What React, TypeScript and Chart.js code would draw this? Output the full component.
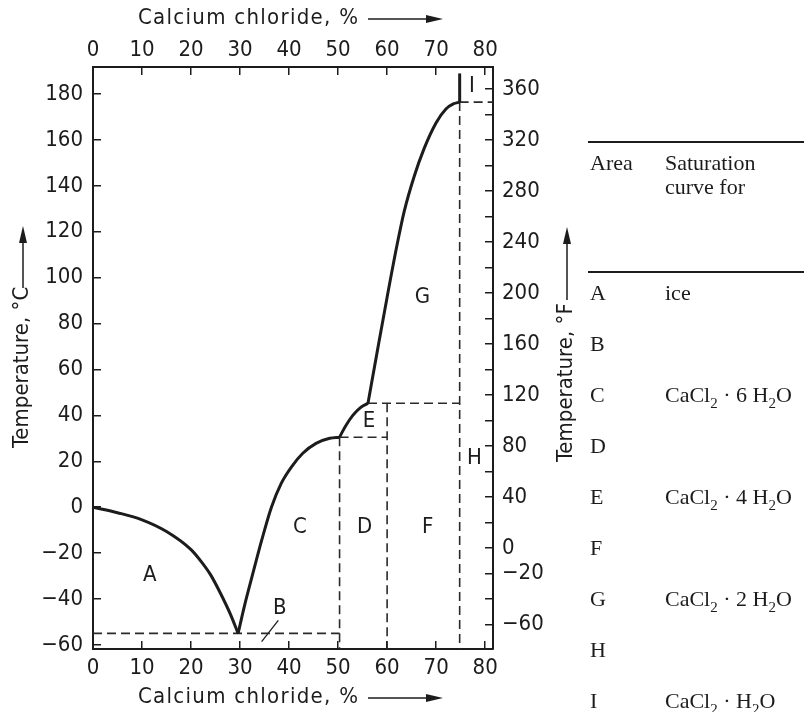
import React, { useEffect, useRef } from 'react';
import { Chart, registerables } from 'chart.js';

Chart.register(...registerables);

const FONT = "'Liberation Sans Narrow', 'DejaVu Sans Condensed', 'Liberation Sans', sans-serif";
const SERIF = "'Liberation Serif', 'DejaVu Serif', serif";
const INK = '#1c1c1c';

// ---- axis ranges / ticks ----
const pctMin = 0;
const pctMax = 81.6;
const pctStep = 10;
const tempCMin = -61.8;
const tempCMax = 191.8;
const tempCStep = 20;
const tempFStep = 20;
const fahrenheitLabelled = [360, 320, 280, 240, 200, 160, 120, 80, 40, 0, -20, -60];

// ---- saturation curves: [CaCl2 %, temperature °C] ----
const iceCurve = [[0, 0], [5, -2.4], [10, -5.5], [15, -10.6], [20, -18.5], [22, -23.5], [24, -29.5], [26, -37.5], [28, -46.5], [29.6, -55]];
const hexahydrateCurve = [[29.6, -55], [30.9, -43], [32.6, -29], [34.4, -14.5], [36.4, 0], [38.4, 10.4], [40.5, 17.6], [42.8, 23.5], [45.5, 27.8], [48.3, 30], [50.3, 30.5]];
const tetrahydrateCurve = [[50.3, 30.5], [51.5, 35.3], [53, 40], [54.5, 43.3], [56.1, 45.3]];
const dihydrateCurve = [[56.1, 45.3], [58, 68], [60, 91.5], [62, 114], [63.5, 129], [65.5, 144], [67.5, 156], [70, 167.5], [72, 173.5], [73.5, 175.7], [74.8, 176.5]];
const monohydrateCurve = [[74.8, 176.5], [74.8, 189]];

// ---- dashed phase boundaries ----
const eutecticLine = [[0, -55], [50.3, -55]];
const hexaVertical = [[50.3, 30.5], [50.3, tempCMin]];
const hexaHorizontal = [[50.3, 30.5], [60, 30.5]];
const tetraVertical = [[60, 45.3], [60, tempCMin]];
const tetraHorizontal = [[56.1, 45.3], [74.8, 45.3]];
const diVertical = [[74.8, 176.5], [74.8, tempCMin]];
const diHorizontal = [[74.8, 176.5], [pctMax, 176.5]];
const leaderB = [[34.4, -58.6], [37.8, -49.3]];

// ---- area labels ----
const areaLetters = ['A', 'B', 'C', 'D', 'E', 'F', 'G', 'H', 'I'];
const areaPct = [11.6, 38.1, 42.2, 55.4, 56.3, 68.3, 67.2, 77.8, 77.3];
const areaTemp = [-29.5, -44, -8.6, -8.6, 37.3, -8.6, 91.3, 21.3, 183.5];

// ---- table ----
const tableHeaderArea = 'Area';
const tableHeaderCurve = ['Saturation', 'curve for'];
const tableCurves = ['ice', '', 'CaCl2 · 6 H2O', '', 'CaCl2 · 4 H2O', '', 'CaCl2 · 2 H2O', '', 'CaCl2 · H2O'];

const pctTitle = 'Calcium chloride, %';
const tempCTitle = 'Temperature, °C';
const tempFTitle = 'Temperature, °F';

const toPts = (arr: number[][]) => arr.map(([x, y]) => ({ x, y }));
const fmtNum = (v: number) => (v < 0 ? '\u2212' + Math.abs(v) : String(v));

const curve = (arr: number[][], smooth = true) => ({
  data: toPts(arr),
  showLine: true,
  borderColor: INK,
  borderWidth: 3,
  pointRadius: 0,
  fill: false,
  tension: 0,
  cubicInterpolationMode: smooth ? 'monotone' : 'default',
});

const dashed = (arr: number[][]) => ({
  data: toPts(arr),
  showLine: true,
  borderColor: '#2a2a2a',
  borderWidth: 1.6,
  borderDash: [9, 5],
  pointRadius: 0,
  fill: false,
  tension: 0,
});

function spacedText(ctx: CanvasRenderingContext2D, text: string, x: number, y: number, target: number) {
  (ctx as any).letterSpacing = '0px';
  const w = ctx.measureText(text).width;
  const ls = Math.max(0, (target - w) / (text.length - 1));
  (ctx as any).letterSpacing = ls + 'px';
  ctx.fillText(text, x, y);
  (ctx as any).letterSpacing = '0px';
}

function arrow(ctx: CanvasRenderingContext2D, x1: number, y1: number, x2: number, y2: number) {
  const ang = Math.atan2(y2 - y1, x2 - x1);
  const head = 17;
  const hw = 4;
  ctx.beginPath();
  ctx.moveTo(x1, y1);
  ctx.lineTo(x2 - Math.cos(ang) * head * 0.8, y2 - Math.sin(ang) * head * 0.8);
  ctx.lineWidth = 1.5;
  ctx.strokeStyle = INK;
  ctx.stroke();
  ctx.beginPath();
  ctx.moveTo(x2, y2);
  ctx.lineTo(x2 - Math.cos(ang) * head - Math.sin(ang) * hw, y2 - Math.sin(ang) * head + Math.cos(ang) * hw);
  ctx.lineTo(x2 - Math.cos(ang) * head + Math.sin(ang) * hw, y2 - Math.sin(ang) * head - Math.cos(ang) * hw);
  ctx.closePath();
  ctx.fillStyle = INK;
  ctx.fill();
}

const textPlugin = {
  id: 'phaseText',
  afterDraw(chart: any) {
    const { ctx, chartArea, scales } = chart;
    const ca = chartArea;
    ctx.save();
    ctx.fillStyle = INK;
    ctx.font = `22px ${FONT}`;
    ctx.textAlign = 'center';
    ctx.textBaseline = 'middle';
    areaLetters.forEach((l, i) => {
      ctx.fillText(l, scales.x.getPixelForValue(areaPct[i]), scales.y.getPixelForValue(areaTemp[i]));
    });

    // horizontal titles (bottom & top)
    ctx.textAlign = 'left';
    const tx = ca.left + 45;
    for (const ty of [ca.bottom + 48, ca.top - 49]) {
      ctx.fillStyle = INK;
      spacedText(ctx, pctTitle, tx, ty, 220);
      arrow(ctx, ca.left + 275, ty + 1, ca.left + 350, ty + 1);
    }

    // rotated titles
    const rot = (text: string, cx: number, startY: number, len: number, arrowFrom: number, arrowTo: number) => {
      ctx.save();
      ctx.translate(cx, startY);
      ctx.rotate(-Math.PI / 2);
      ctx.textAlign = 'left';
      ctx.textBaseline = 'middle';
      ctx.fillStyle = INK;
      spacedText(ctx, text, 0, 0, len);
      ctx.restore();
      arrow(ctx, cx + 1, arrowFrom, cx + 1, arrowTo);
    };
    rot(tempCTitle, ca.left - 71, 448, 152, 288, 226);
    rot(tempFTitle, ca.right + 73, 462, 155, 300, 227);
    ctx.restore();
  },
};

const axisCommon = (extraTicks: any = {}) => ({
  type: 'linear',
  grid: { drawOnChartArea: false, drawTicks: true, tickLength: -8, color: INK, lineWidth: 1.5 },
  border: { display: true, color: INK, width: 2 },
  ticks: { color: INK, font: { family: FONT, size: 22 }, includeBounds: false, autoSkip: false, maxRotation: 0, callback: (v: number) => fmtNum(Math.round(v)), ...extraTicks },
});

function renderFormula(s: string) {
  const parts = s.split(/(?<=[A-Za-z])(\d)/);
  return parts.map((p, i) =>
    i % 2 === 1 ? (
      <span key={i} style={{ fontSize: '0.68em', position: 'relative', top: 6 }}>{p}</span>
    ) : (
      <span key={i}>{p}</span>
    )
  );
}

export default function App() {
  const ref = useRef<HTMLCanvasElement>(null);
  useEffect(() => {
    const cvs = ref.current!;
    const chart = new Chart(cvs, {
      type: 'scatter',
      data: {
        datasets: [
          curve(iceCurve),
          curve(hexahydrateCurve),
          curve(tetrahydrateCurve),
          curve(dihydrateCurve),
          curve(monohydrateCurve, false),
          dashed(eutecticLine),
          dashed(hexaVertical),
          dashed(hexaHorizontal),
          dashed(tetraVertical),
          dashed(tetraHorizontal),
          dashed(diVertical),
          dashed(diHorizontal),
          { ...curve(leaderB, false), borderWidth: 1.3 },
        ] as any,
      },
      options: {
        animation: false,
        responsive: false,
        maintainAspectRatio: false,
        devicePixelRatio: 1,
        layout: { padding: 0 },
        plugins: { legend: { display: false }, tooltip: { enabled: false } },
        scales: {
          x: {
            ...axisCommon({ stepSize: pctStep, padding: 14 }),
            position: 'bottom',
            min: pctMin,
            max: pctMax,
            afterFit: (s: any) => { s.height = 63; },
          },
          x2: {
            ...axisCommon({ stepSize: pctStep, padding: 12 }),
            position: 'top',
            min: pctMin,
            max: pctMax,
            afterFit: (s: any) => { s.height = 67; },
          },
          y: {
            ...axisCommon({ stepSize: tempCStep, padding: 18 }),
            position: 'left',
            min: tempCMin,
            max: tempCMax,
            afterFit: (s: any) => { s.width = 93; },
          },
          y2: {
            ...axisCommon({
              stepSize: tempFStep,
              padding: 17,
              callback: (v: number) => (fahrenheitLabelled.includes(Math.round(v)) ? fmtNum(Math.round(v)) : ''),
            }),
            position: 'right',
            min: tempCMin * 1.8 + 32,
            max: tempCMax * 1.8 + 32,
            afterFit: (s: any) => { s.width = 311; },
          },
        },
      } as any,
      plugins: [textPlugin],
    });
    return () => chart.destroy();
  }, []);

  const rowBaseline = (i: number) => 300 + i * 51.1;
  const serifBase = { position: 'absolute' as const, fontFamily: SERIF, fontSize: 22, lineHeight: '22px', color: INK, whiteSpace: 'nowrap' as const };
  const asc = 18.4;

  return (
    <div style={{ position: 'absolute', left: 0, top: 0, width: 804, height: 712, overflow: 'hidden', background: '#fff' }}>
      <canvas ref={ref} width={804} height={712} style={{ position: 'absolute', left: 0, top: 0, width: 804, height: 712 }} />
      <div style={{ position: 'absolute', left: 588, top: 141, width: 216, height: 1.6, background: INK }} />
      <div style={{ ...serifBase, left: 590, top: 170 - asc }}>{tableHeaderArea}</div>
      <div style={{ ...serifBase, left: 665, top: 170 - asc }}>{tableHeaderCurve[0]}</div>
      <div style={{ ...serifBase, left: 665, top: 194 - asc }}>{tableHeaderCurve[1]}</div>
      <div style={{ position: 'absolute', left: 588, top: 270.5, width: 216, height: 2.6, background: INK }} />
      {areaLetters.map((l, i) => (
        <React.Fragment key={l}>
          <div style={{ ...serifBase, left: 590, top: rowBaseline(i) - asc }}>{l}</div>
          {tableCurves[i] ? (
            <div style={{ ...serifBase, left: 665, top: rowBaseline(i) - asc }}>{renderFormula(tableCurves[i])}</div>
          ) : null}
        </React.Fragment>
      ))}
    </div>
  );
}
